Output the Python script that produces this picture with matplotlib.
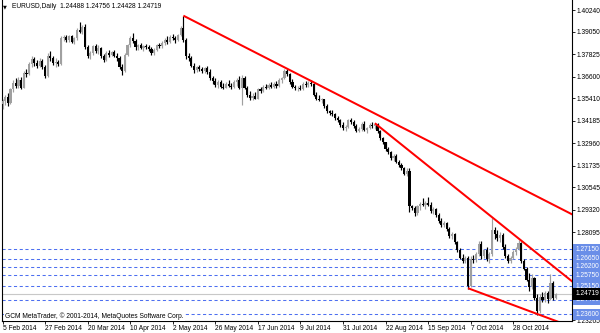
import matplotlib
matplotlib.use("Agg")
import matplotlib.pyplot as plt
import matplotlib.transforms as mtransforms

# ---------------- data ----------------
opens = [1.3510,1.3525,1.3550,1.3515,1.3590,1.3625,1.3610,1.3640,1.3600,1.3680,
         1.3675,1.3730,1.3755,1.3735,1.3720,1.3745,1.3710,1.3665,1.3775,1.3760,
         1.3735,1.3740,1.3730,1.3870,1.3875,1.3860,1.3880,1.3850,1.3870,1.3915,
         1.3905,1.3930,1.3820,1.3775,1.3790,1.3825,1.3800,1.3815,1.3770,1.3750,
         1.3790,1.3780,1.3795,1.3775,1.3760,1.3715,1.3690,1.3780,1.3830,1.3870,
         1.3855,1.3820,1.3830,1.3815,1.3825,1.3820,1.3810,1.3790,1.3805,1.3835,
         1.3825,1.3845,1.3860,1.3850,1.3875,1.3870,1.3860,1.3885,1.3925,1.3860,
         1.3770,1.3760,1.3720,1.3695,1.3710,1.3700,1.3690,1.3705,1.3685,1.3650,
         1.3635,1.3615,1.3630,1.3605,1.3600,1.3620,1.3610,1.3605,1.3630,1.3640,
         1.3600,1.3650,1.3600,1.3560,1.3545,1.3555,1.3540,1.3590,1.3580,1.3605,
         1.3600,1.3615,1.3605,1.3620,1.3610,1.3640,1.3650,1.3690,1.3675,1.3630,
         1.3605,1.3595,1.3600,1.3590,1.3620,1.3615,1.3625,1.3620,1.3560,1.3540,
         1.3530,1.3535,1.3500,1.3470,1.3460,1.3455,1.3435,1.3420,1.3395,1.3380,
         1.3385,1.3420,1.3410,1.3390,1.3365,1.3375,1.3400,1.3370,1.3380,1.3395,
         1.3390,1.3400,1.3360,1.3325,1.3300,1.3265,1.3245,1.3215,1.3225,1.3195,
         1.3175,1.3160,1.3130,1.3145,1.2950,1.2940,1.2915,1.2950,1.2965,1.2960,
         1.2970,1.2960,1.2925,1.2935,1.2905,1.2870,1.2850,1.2860,1.2825,1.2790,
         1.2800,1.2755,1.2710,1.2670,1.2650,1.2670,1.2515,1.2665,1.2655,1.2690,
         1.2745,1.2680,1.2710,1.2660,1.2690,1.2820,1.2800,1.2775,1.2795,1.2730,
         1.2680,1.2650,1.2670,1.2700,1.2720,1.2750,1.2650,1.2610,1.2550,1.2510,
         1.2560,1.2450,1.2380,1.2455,1.2440,1.2475,1.2445,1.2530,1.24488]
highs = [1.3540,1.3560,1.3570,1.3600,1.3640,1.3650,1.3655,1.3660,1.3690,1.3700,
         1.3740,1.3770,1.3765,1.3750,1.3760,1.3755,1.3725,1.3790,1.3800,1.3770,
         1.3760,1.3750,1.3880,1.3890,1.3885,1.3885,1.3890,1.3875,1.3925,1.3960,
         1.3940,1.3945,1.3830,1.3800,1.3835,1.3840,1.3830,1.3820,1.3785,1.3800,
         1.3805,1.3800,1.3805,1.3790,1.3770,1.3730,1.3790,1.3840,1.3880,1.3900,
         1.3865,1.3840,1.3845,1.3835,1.3840,1.3830,1.3820,1.3815,1.3840,1.3845,
         1.3855,1.3870,1.3880,1.3885,1.3895,1.3880,1.3895,1.3935,1.3993,1.3870,
         1.3790,1.3770,1.3735,1.3720,1.3725,1.3715,1.3715,1.3720,1.3700,1.3665,
         1.3650,1.3640,1.3640,1.3625,1.3630,1.3640,1.3625,1.3640,1.3650,1.3665,
         1.3670,1.3665,1.3610,1.3580,1.3570,1.3575,1.3600,1.3605,1.3615,1.3620,
         1.3625,1.3630,1.3630,1.3635,1.3650,1.3660,1.3700,1.3700,1.3680,1.3645,
         1.3615,1.3610,1.3615,1.3630,1.3635,1.3635,1.3640,1.3625,1.3575,1.3560,
         1.3545,1.3540,1.3510,1.3480,1.3475,1.3460,1.3445,1.3430,1.3410,1.3395,
         1.3430,1.3435,1.3420,1.3400,1.3385,1.3410,1.3415,1.3385,1.3405,1.3410,
         1.3405,1.3405,1.3370,1.3330,1.3305,1.3275,1.3255,1.3235,1.3235,1.3205,
         1.3190,1.3165,1.3160,1.3160,1.2960,1.2950,1.2960,1.2975,1.2995,1.2980,
         1.3000,1.2975,1.2945,1.2940,1.2915,1.2885,1.2870,1.2865,1.2835,1.2810,
         1.2805,1.2760,1.2725,1.2690,1.2680,1.2680,1.2680,1.2685,1.2700,1.2760,
         1.2760,1.2720,1.2730,1.2700,1.2887,1.2840,1.2820,1.2810,1.2805,1.2745,
         1.2690,1.2680,1.2710,1.2730,1.2765,1.2755,1.2660,1.2620,1.2585,1.2580,
         1.2565,1.2470,1.2470,1.2480,1.2490,1.2490,1.2580,1.2545,1.24756]
lows = [1.3485,1.3505,1.3500,1.3510,1.3575,1.3600,1.3595,1.3590,1.3595,1.3660,
        1.3670,1.3715,1.3720,1.3705,1.3710,1.3700,1.3650,1.3660,1.3745,1.3725,
        1.3715,1.3720,1.3725,1.3855,1.3850,1.3850,1.3845,1.3840,1.3860,1.3900,
        1.3895,1.3810,1.3760,1.3755,1.3780,1.3790,1.3785,1.3760,1.3740,1.3745,
        1.3765,1.3770,1.3765,1.3745,1.3700,1.3670,1.3685,1.3770,1.3820,1.3845,
        1.3805,1.3805,1.3810,1.3800,1.3810,1.3800,1.3780,1.3780,1.3800,1.3815,
        1.3815,1.3830,1.3840,1.3845,1.3860,1.3845,1.3855,1.3880,1.3850,1.3755,
        1.3745,1.3710,1.3680,1.3685,1.3690,1.3680,1.3680,1.3675,1.3640,1.3620,
        1.3605,1.3600,1.3595,1.3590,1.3595,1.3605,1.3590,1.3600,1.3610,1.3590,
        1.3503,1.3590,1.3550,1.3530,1.3530,1.3535,1.3535,1.3570,1.3575,1.3590,
        1.3590,1.3595,1.3600,1.3600,1.3605,1.3625,1.3645,1.3665,1.3620,1.3595,
        1.3585,1.3580,1.3585,1.3585,1.3605,1.3605,1.3610,1.3555,1.3530,1.3525,
        1.3515,1.3490,1.3460,1.3450,1.3445,1.3425,1.3410,1.3385,1.3370,1.3365,
        1.3380,1.3400,1.3380,1.3355,1.3355,1.3365,1.3360,1.3350,1.3375,1.3380,
        1.3375,1.3350,1.3315,1.3290,1.3255,1.3235,1.3205,1.3200,1.3185,1.3165,
        1.3150,1.3120,1.3115,1.2920,1.2930,1.2900,1.2905,1.2930,1.2950,1.2935,
        1.2950,1.2915,1.2910,1.2895,1.2860,1.2840,1.2835,1.2815,1.2780,1.2770,
        1.2745,1.2700,1.2660,1.2640,1.2640,1.2501,1.2510,1.2640,1.2645,1.2680,
        1.2665,1.2670,1.2650,1.2640,1.2680,1.2770,1.2760,1.2755,1.2720,1.2670,
        1.2640,1.2640,1.2660,1.2685,1.2710,1.2640,1.2600,1.2540,1.2490,1.2500,
        1.2440,1.2358,1.2370,1.2430,1.2430,1.2420,1.2440,1.2440,1.24428]
closes = [1.3525,1.3550,1.3515,1.3590,1.3625,1.3610,1.3640,1.3600,1.3680,1.3675,
          1.3730,1.3755,1.3735,1.3720,1.3745,1.3710,1.3665,1.3775,1.3760,1.3735,
          1.3740,1.3730,1.3870,1.3875,1.3860,1.3880,1.3850,1.3870,1.3915,1.3905,
          1.3930,1.3820,1.3775,1.3790,1.3825,1.3800,1.3815,1.3770,1.3750,1.3790,
          1.3780,1.3795,1.3775,1.3760,1.3715,1.3690,1.3780,1.3830,1.3870,1.3855,
          1.3820,1.3830,1.3815,1.3825,1.3820,1.3810,1.3790,1.3805,1.3835,1.3825,
          1.3845,1.3860,1.3850,1.3875,1.3870,1.3860,1.3885,1.3925,1.3860,1.3770,
          1.3760,1.3720,1.3695,1.3710,1.3700,1.3690,1.3705,1.3685,1.3650,1.3635,
          1.3615,1.3630,1.3605,1.3600,1.3620,1.3610,1.3605,1.3630,1.3640,1.3600,
          1.3650,1.3600,1.3560,1.3545,1.3555,1.3540,1.3590,1.3580,1.3605,1.3600,
          1.3615,1.3605,1.3620,1.3610,1.3640,1.3650,1.3690,1.3675,1.3630,1.3605,
          1.3595,1.3600,1.3590,1.3620,1.3615,1.3625,1.3620,1.3560,1.3540,1.3530,
          1.3535,1.3500,1.3470,1.3460,1.3455,1.3435,1.3420,1.3395,1.3380,1.3385,
          1.3420,1.3410,1.3390,1.3365,1.3375,1.3400,1.3370,1.3380,1.3395,1.3390,
          1.3400,1.3360,1.3325,1.3300,1.3265,1.3245,1.3215,1.3225,1.3195,1.3175,
          1.3160,1.3130,1.3145,1.2950,1.2940,1.2915,1.2950,1.2965,1.2960,1.2970,
          1.2960,1.2925,1.2935,1.2905,1.2870,1.2850,1.2860,1.2825,1.2790,1.2800,
          1.2755,1.2710,1.2670,1.2650,1.2670,1.2515,1.2665,1.2655,1.2690,1.2745,
          1.2680,1.2710,1.2660,1.2690,1.2820,1.2800,1.2775,1.2795,1.2730,1.2680,
          1.2650,1.2670,1.2700,1.2720,1.2750,1.2650,1.2610,1.2550,1.2510,1.2560,
          1.2450,1.2380,1.2455,1.2440,1.2475,1.2445,1.2530,1.24488,1.24719]

date_labels = ["5 Feb 2014", "27 Feb 2014", "20 Mar 2014", "10 Apr 2014", "2 May 2014",
               "26 May 2014", "17 Jun 2014", "9 Jul 2014", "31 Jul 2014", "22 Aug 2014",
               "15 Sep 2014", "7 Oct 2014", "28 Oct 2014"]
date_label_bars = [0, 16, 32, 48, 64, 80, 96, 112, 128, 144, 160, 176, 192]

price_ticks = [1.40240, 1.39050, 1.37825, 1.36600, 1.35410, 1.34185, 1.32960,
               1.31735, 1.30545, 1.29320, 1.28095, 1.23265]
hlines = [1.27150, 1.26650, 1.26200, 1.25750, 1.25150, 1.24400, 1.23600]
current_price = 1.24719

# trend lines: (bar index, price) start and end anchors
trend_upper = [(68, 1.3993), (214.5, 1.2904)]
trend_mid = [(140, 1.3405), (214.5, 1.2536)]
trend_low = [(175, 1.2503), (214.5, 1.2289)]

title_text = "EURUSD,Daily  1.24488 1.24756 1.24428 1.24719"
copyright_text = "GCM MetaTrader, \u00a9 2001-2014, MetaQuotes Software Corp."

# ---------------- figure ----------------
FONT = ["Liberation Sans", "DejaVu Sans"]
FS = 4.8
W, H = 600, 333
fig = plt.figure(figsize=(W / 100, H / 100), dpi=100)
fig.patch.set_facecolor("white")
ax_left, ax_right, ax_top, ax_bottom = 1.5, 572.0, 0.0, 320.7
ax = fig.add_axes([ax_left / W, 1 - ax_bottom / H, (ax_right - ax_left) / W, (ax_bottom - ax_top) / H])
ax.set_facecolor("white")

ax.set_xlim(-0.38, 214.1)
ax.set_ylim(1.23253, 1.40787)

n = len(closes)
idx = list(range(n))
bull_col = "#a0a0a0"
bear_col = "#000000"
cols = [bull_col if c >= o else bear_col for o, c in zip(opens, closes)]

# wicks
ax.vlines(idx, lows, highs, colors=cols, linewidth=0.85, zorder=3)
# bodies
bottoms = [min(o, c) for o, c in zip(opens, closes)]
heights = [max(abs(c - o), 0.00030) for o, c in zip(opens, closes)]
ax.bar(idx, heights, bottom=bottoms, width=0.8, color=cols, linewidth=0, zorder=4)

# horizontal dashed levels
for lv in hlines:
    ax.axhline(lv, color="#4d6ff0", linewidth=0.75, linestyle=(0, (3, 2.5)), zorder=2)
# current price line
ax.axhline(current_price, color="#c8c8c8", linewidth=0.8, zorder=1)

# trend lines
for tl in (trend_upper, trend_mid, trend_low):
    ax.plot([tl[0][0], tl[1][0]], [tl[0][1], tl[1][1]], color="#ff0000",
            linewidth=1.45, zorder=5, solid_capstyle="butt")

# axes styling
ax.spines["top"].set_visible(False)
for s in ["left", "right", "bottom"]:
    ax.spines[s].set_linewidth(0.8)
    ax.spines[s].set_color("black")

ax.yaxis.tick_right()
ax.set_yticks(price_ticks)
ax.set_yticklabels(["%.5f" % p for p in price_ticks], fontsize=FS, family=FONT)
ax.tick_params(axis="y", direction="out", length=2.2, width=0.6, pad=1.2)

ax.set_xticks(date_label_bars)
ax.set_xticklabels(date_labels, fontsize=FS, family=FONT, ha="left")
ax.tick_params(axis="x", direction="out", length=2.2, width=0.6, pad=0.8)
ax.tick_params(axis="y", left=False, labelleft=False)

# level labels on right
trans = mtransforms.blended_transform_factory(ax.transAxes, ax.transData)
xlab = 1.0 + 3.5 / (ax_right - ax_left)
for lv in hlines:
    ax.text(xlab, lv, "%.5f" % lv, transform=trans, fontsize=FS, family=FONT,
            color="white", ha="left", va="center", clip_on=False, zorder=10,
            bbox=dict(boxstyle="square,pad=0.32", facecolor="#6a8ee8", edgecolor="none"))
ax.text(xlab, current_price, "%.5f" % current_price, transform=trans, fontsize=FS, family=FONT,
        color="white", ha="left", va="center", clip_on=False, zorder=11,
        bbox=dict(boxstyle="square,pad=0.32", facecolor="black", edgecolor="none"))

# title and copyright
fig.text(2.5 / W, 1 - 6.8 / H, "\u25bc", fontsize=3.6, family=["DejaVu Sans"], color="black",
         ha="left", va="center")
fig.text(12.5 / W, 1 - 6.8 / H, title_text, fontsize=FS, family=FONT, color="black",
         ha="left", va="center")
ax.text(5 / W, 1 - 315.7 / H, copyright_text, transform=fig.transFigure, fontsize=FS, family=FONT,
        color="black", ha="left", va="center", zorder=12,
        bbox=dict(boxstyle="square,pad=0.15", facecolor="white", edgecolor="none"))

fig.savefig("out.png", dpi=100, facecolor="white")
